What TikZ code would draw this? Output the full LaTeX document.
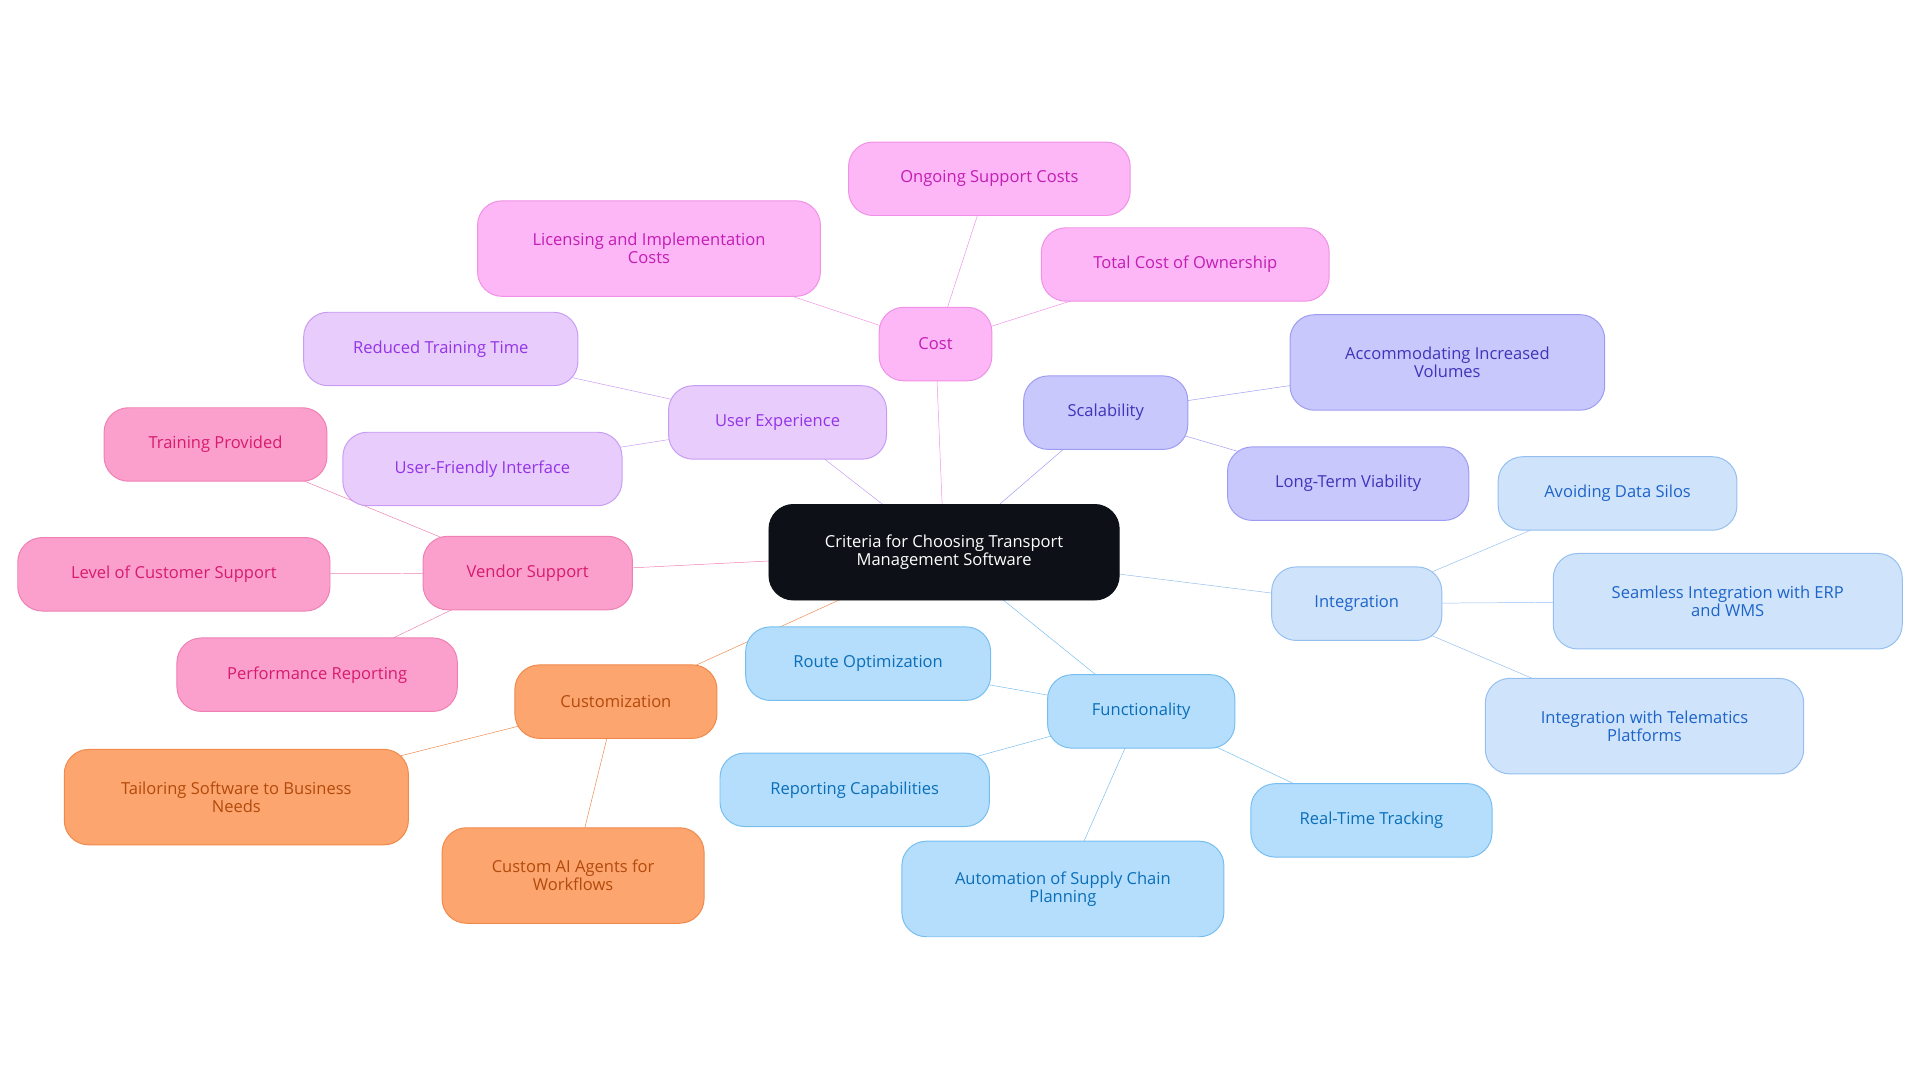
\documentclass[tikz,border=0pt]{standalone}
\usepackage{fontspec}
\setmainfont{Open Sans}
\usetikzlibrary{backgrounds}
\definecolor{rootfill}{HTML}{0D1117}
\definecolor{costfill}{HTML}{FDB7F6}\definecolor{costtext}{HTML}{C21DB4}\definecolor{costline}{HTML}{F090E6}
\definecolor{uxfill}{HTML}{E8CCFC}\definecolor{uxtext}{HTML}{9334E6}\definecolor{uxline}{HTML}{C89CF4}
\definecolor{scalefill}{HTML}{C8C8FC}\definecolor{scaletext}{HTML}{3E35B8}\definecolor{scaleline}{HTML}{9E9CF2}
\definecolor{intfill}{HTML}{CFE3FB}\definecolor{inttext}{HTML}{1D64C8}\definecolor{intline}{HTML}{94BFF0}
\definecolor{funcfill}{HTML}{B4DEFC}\definecolor{functext}{HTML}{0B6EB8}\definecolor{funcline}{HTML}{76BEF0}
\definecolor{vendfill}{HTML}{FBA0CC}\definecolor{vendtext}{HTML}{D81A70}\definecolor{vendline}{HTML}{EE80B3}
\definecolor{custfill}{HTML}{FDA56E}\definecolor{custtext}{HTML}{B24A0C}\definecolor{custline}{HTML}{F08A4C}
\tikzset{
  box/.style={rounded corners=20pt, align=center, inner sep=0pt, font=\fontsize{13.5}{15}\selectfont, line width=0.8pt},
  one/.style={box, minimum height=60pt},
  two/.style={box, minimum height=78pt},
  cost/.style={fill=costfill, draw=costline, text=costtext},
  ux/.style={fill=uxfill, draw=uxline, text=uxtext},
  scal/.style={fill=scalefill, draw=scaleline, text=scaletext},
  integ/.style={fill=intfill, draw=intline, text=inttext},
  func/.style={fill=funcfill, draw=funcline, text=functext},
  vend/.style={fill=vendfill, draw=vendline, text=vendtext},
  cust/.style={fill=custfill, draw=custline, text=custtext},
  link/.style={line width=1.6pt}
}
\begin{document}
\begin{tikzpicture}[x=1pt,y=-1pt]
\useasboundingbox (0,0) rectangle (1568,885);
% centre
\node[two, fill=rootfill, draw=rootfill, text=white, minimum width=286pt] (root) at (771,451) {Criteria for Choosing Transport\\Management Software};
% cost
\node[one, cost, minimum width=92pt] (cost) at (764,281) {Cost};
\node[one, cost, minimum width=230pt] (ongoing) at (808,146) {Ongoing Support Costs};
\node[two, cost, minimum width=280pt] (licensing) at (530,203) {Licensing and Implementation\\Costs};
\node[one, cost, minimum width=235pt] (tco) at (968,216) {Total Cost of Ownership};
% user experience
\node[one, ux, minimum width=178pt] (ux) at (635,345) {User Experience};
\node[one, ux, minimum width=224pt] (training) at (360,285) {Reduced Training Time};
\node[one, ux, minimum width=228pt] (friendly) at (394,383) {User-Friendly Interface};
% scalability
\node[one, scal, minimum width=134pt] (scal) at (903,337) {Scalability};
\node[two, scal, minimum width=257pt] (volumes) at (1182,296) {Accommodating Increased\\Volumes};
\node[one, scal, minimum width=197pt] (viability) at (1101,395) {Long-Term Viability};
% integration
\node[one, integ, minimum width=139pt] (integ) at (1108,493) {Integration};
\node[one, integ, minimum width=195pt] (silos) at (1321,403) {Avoiding Data Silos};
\node[two, integ, minimum width=285pt] (erp) at (1411,491) {Seamless Integration with ERP\\and WMS};
\node[two, integ, minimum width=260pt] (telematics) at (1343,593) {Integration with Telematics\\Platforms};
% functionality
\node[one, func, minimum width=153pt] (func) at (932,581) {Functionality};
\node[one, func, minimum width=200pt] (route) at (709,542) {Route Optimization};
\node[one, func, minimum width=220pt] (reporting) at (698,645) {Reporting Capabilities};
\node[one, func, minimum width=197pt] (tracking) at (1120,670) {Real-Time Tracking};
\node[two, func, minimum width=263pt] (automation) at (868,726) {Automation of Supply Chain\\Planning};
% vendor support
\node[one, vend, minimum width=171pt] (vendor) at (431,468) {Vendor Support};
\node[one, vend, minimum width=182pt] (provided) at (176,363) {Training Provided};
\node[one, vend, minimum width=255pt] (level) at (142,469) {Level of Customer Support};
\node[one, vend, minimum width=229pt] (perf) at (259,551) {Performance Reporting};
% customization
\node[one, cust, minimum width=165pt] (cust) at (503,573) {Customization};
\node[two, cust, minimum width=281pt] (tailor) at (193,651) {Tailoring Software to Business\\Needs};
\node[two, cust, minimum width=214pt] (agents) at (468,715) {Custom AI Agents for\\Workflows};

\begin{scope}[on background layer, link]
\draw[costline] (root.center) -- (cost.center);
\foreach \n in {ongoing,licensing,tco} \draw[costline] (cost.center) -- (\n.center);
\draw[uxline] (root.center) -- (ux.center);
\foreach \n in {training,friendly} \draw[uxline] (ux.center) -- (\n.center);
\draw[scaleline] (root.center) -- (scal.center);
\foreach \n in {volumes,viability} \draw[scaleline] (scal.center) -- (\n.center);
\draw[intline] (root.center) -- (integ.center);
\foreach \n in {silos,erp,telematics} \draw[intline] (integ.center) -- (\n.center);
\draw[funcline] (root.center) -- (func.center);
\foreach \n in {route,reporting,tracking,automation} \draw[funcline] (func.center) -- (\n.center);
\draw[vendline] (root.center) -- (vendor.center);
\foreach \n in {provided,level,perf} \draw[vendline] (vendor.center) -- (\n.center);
\draw[custline] (root.center) -- (cust.center);
\foreach \n in {tailor,agents} \draw[custline] (cust.center) -- (\n.center);
\end{scope}
\end{tikzpicture}
\end{document}
